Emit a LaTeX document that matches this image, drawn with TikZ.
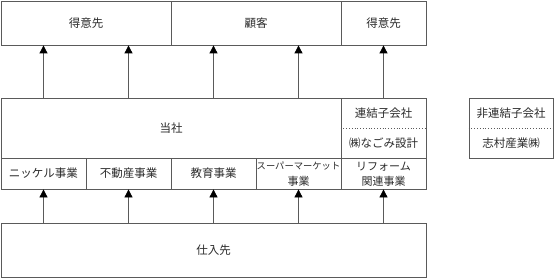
\documentclass[tikz,border=0pt]{standalone}
\usepackage{fontspec}
\usepackage{xcolor}
\usepackage{tikz}
\usetikzlibrary{arrows.meta}
\newfontfamily\jpfont{Noto Sans CJK JP}
\definecolor{linegray}{HTML}{5A5A5A}
\definecolor{textgray}{HTML}{2A2A2A}

\begin{document}
\begin{tikzpicture}[x=1pt, y=-1pt,
  every node/.style={inner sep=0pt, text=textgray, font=\jpfont\fontsize{11.5}{14}\selectfont, align=center},
  box/.style={draw=linegray, line width=0.8pt, rectangle},
  flow/.style={draw=linegray, line width=0.8pt, -{Triangle[width=8pt,length=8pt,color=black]}}]
\useasboundingbox (0,0) rectangle (554,278);
% customers
\node[box, minimum width=170pt, minimum height=44pt] (c1) at (86,23) {得意先};
\node[box, minimum width=170pt, minimum height=44pt] (c2) at (256,23) {顧客};
\node[box, minimum width=85pt, minimum height=44pt] (c3) at (383.5,23) {得意先};
% company
\node[box, minimum width=340pt, minimum height=60pt] (tosha) at (171,128) {当社};
\node[box, minimum width=85pt, minimum height=60pt] (renketsu) at (383.5,128) {};
\node (r1) at (383.5,113.5) {連結子会社};
\node (r2) at (383.5,143) {㈱なごみ設計};
\draw[linegray, line width=0.8pt, dotted] (renketsu.west) -- (renketsu.east);
\node[box, minimum width=84pt, minimum height=60pt] (hiren) at (511,128) {};
\node (h1) at (511,113.5) {非連結子会社};
\node (h2) at (511,143) {志村産業㈱};
\draw[linegray, line width=0.8pt, dotted] (hiren.west) -- (hiren.east);
% businesses
\node[box, minimum width=85pt, minimum height=31pt] (b1) at (43.5,173.5) {ニッケル事業};
\node[box, minimum width=85pt, minimum height=31pt] (b2) at (128.5,173.5) {不動産事業};
\node[box, minimum width=85pt, minimum height=31pt] (b3) at (213.5,173.5) {教育事業};
\node[box, minimum width=85pt, minimum height=31pt] (b4) at (298.5,173.5) {};
\node[box, minimum width=85pt, minimum height=31pt] (b5) at (383.5,173.5) {};
\node[font=\jpfont\fontsize{9.3}{15.5}\selectfont] (t4) at (298.5,174) {スーパーマーケット\\{\fontsize{11}{15.5}\selectfont 事業}};
\node[font=\jpfont\fontsize{11}{15.5}\selectfont] (t5) at (383.5,174) {リフォーム\\関連事業};
% suppliers
\node[box, minimum width=425pt, minimum height=54pt] (shiire) at (213.5,250) {仕入先};
% arrows
\foreach \b in {b1,b2,b3,b4,b5}
  \draw[flow] (shiire.north -| \b) -- (\b.south);
\draw[flow] (tosha.north -| b1) -- (c1.south -| b1);
\draw[flow] (tosha.north -| b2) -- (c1.south -| b2);
\draw[flow] (tosha.north -| b3) -- (c2.south -| b3);
\draw[flow] (tosha.north -| b4) -- (c2.south -| b4);
\draw[flow] (renketsu.north) -- (c3.south);
\end{tikzpicture}
\end{document}
